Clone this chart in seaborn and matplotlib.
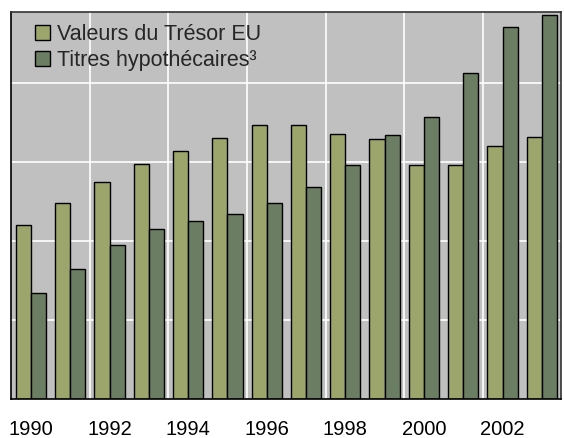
import pandas as pd
import matplotlib.pyplot as plt
import seaborn as sns

# Values (grid step = 100)
years = [str(y) for y in range(1990, 2004)]
tresor = [220, 248, 275, 298, 314, 331, 347, 347, 336, 329, 296, 296, 321, 332]
hypo = [134, 165, 195, 215, 225, 235, 248, 268, 296, 334, 357, 413, 471, 486]
series = ['Valeurs du Trésor EU', 'Titres hypothécaires³']
tick_years = ['1990', '', '1992', '', '1994', '', '1996', '', '1998', '', '2000', '', '2002', '']

df = pd.DataFrame({
    'Année': years * 2,
    'Valeur': tresor + hypo,
    'Série': [series[0]] * len(years) + [series[1]] * len(years),
})

sns.set_theme(style="white")
plt.rcParams['font.family'] = ['Liberation Sans', 'DejaVu Sans']

fig = plt.figure(figsize=(5.64, 4.38), dpi=100)
ax = fig.add_axes([0.020, 0.0884, 0.9755, 0.8842])
ax.set_facecolor('#c0c0c0')

palette = {series[0]: '#9ca66c', series[1]: '#6b7d62'}
sns.barplot(data=df, x='Année', y='Valeur', hue='Série', palette=palette,
            width=0.77, gap=0, edgecolor='black', linewidth=1,
            saturation=1, ax=ax)

ax.set_xlim(-0.5, len(years) - 0.5)
ax.set_ylim(0, 490)

# grid: horizontal every 100, vertical every two years between groups
ax.set_yticks([100, 200, 300, 400])
ax.set_yticklabels([])
ax.set_xticks(range(len(years)))
ax.set_xticklabels(tick_years, fontsize=14.5, color='black')
ax.set_xticks([i + 0.5 for i in range(1, len(years) - 2, 2)], minor=True)
ax.grid(True, axis='y', which='major', color='white', linewidth=1.2)
ax.grid(True, axis='x', which='minor', color='white', linewidth=1.2)
ax.grid(False, axis='x', which='major')
ax.set_axisbelow(True)
ax.tick_params(axis='both', which='both', length=0)
ax.tick_params(axis='x', pad=15)
ax.set_xlabel('')
ax.set_ylabel('')

for side in ['left', 'bottom']:
    ax.spines[side].set_color('black')
    ax.spines[side].set_linewidth(1.2)
for side in ['top', 'right']:
    ax.spines[side].set_color('#333333')
    ax.spines[side].set_linewidth(1.2)

handles, labels = ax.get_legend_handles_labels()
ax.legend(handles, labels, loc='upper left', frameon=False, fontsize=15.5,
          handlelength=0.7, handleheight=0.7, handletextpad=0.3,
          labelspacing=0.2, borderaxespad=0, bbox_to_anchor=(0.028, 0.99))

plt.savefig('out.png', dpi=100)
plt.close()
